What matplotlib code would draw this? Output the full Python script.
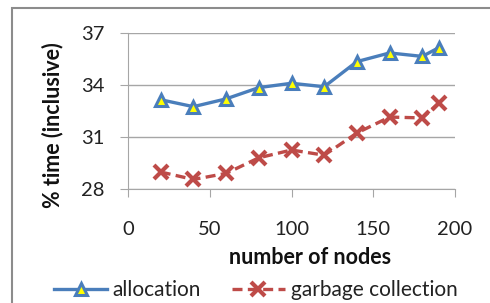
import matplotlib
matplotlib.use("Agg")
import matplotlib.pyplot as plt
from matplotlib.patches import Rectangle

plt.rcParams['font.family'] = ['Lato', 'DejaVu Sans']

nodes = [20, 40, 60, 80, 100, 120, 140, 160, 180, 190]
allocation = [33.15, 32.75, 33.2, 33.85, 34.1, 33.9, 35.35, 35.85, 35.65, 36.15]
garbage = [28.98, 28.55, 28.9, 29.8, 30.25, 29.95, 31.23, 32.15, 32.1, 32.95]

yticks = [28, 31, 34, 37]
xticks = [0, 50, 100, 150, 200]

blue = "#4a7ebb"
red = "#be4b48"
gray = "#a6a6a6"

fig = plt.figure(figsize=(4.9, 3.03), dpi=100)
ax = fig.add_axes([128/490, 1-189/303, (455-128)/490, (189-33)/303])

# outer chart border (only top/left visible in crop)
fig.patches.append(Rectangle((12/490, -0.1), 1.2, 1-8/303+0.1, transform=fig.transFigure,
                             fill=False, edgecolor="#8c8c8c", lw=1.5))

ax.plot(nodes, allocation, color=blue, lw=2.4, marker="^", ms=9,
        mfc="#ffff00", mec=blue, mew=2.2, label="allocation")
ax.plot(nodes, garbage, color=red, lw=2.4, ls=(0, (3, 1.6)), marker="x", ms=10,
        mec=red, mew=3, label="garbage collection")

ax.set_xlim(0, 200)
ax.set_ylim(28, 37)
ax.set_xticks(xticks)
ax.set_yticks(yticks)
ax.yaxis.grid(True, color=gray, lw=1)
ax.set_axisbelow(True)
for s in ["top", "right"]:
    ax.spines[s].set_visible(False)
for s in ["left", "bottom"]:
    ax.spines[s].set_color(gray)
ax.tick_params(axis="both", colors=gray, labelcolor="#222222", labelsize=14.5, length=6)
ax.tick_params(axis="y", pad=11)
ax.tick_params(axis="x", pad=17)

ax.set_ylabel("% time (inclusive)", fontsize=15.5, fontweight="bold", color="#111111")
ax.yaxis.set_label_coords(-0.199, 0.41)
fig.text(310/490, 1-258/303, "number of nodes", fontsize=15.5, fontweight="bold",
         ha="center", va="center", color="#111111")

ax.legend(loc="center", bbox_to_anchor=(256/490, 1-290/303), bbox_transform=fig.transFigure,
          ncol=2, frameon=False, fontsize=15, handlelength=2.5, columnspacing=1.5,
          handletextpad=0.3, borderaxespad=0, borderpad=0, labelcolor="#222222")

fig.savefig("out.png", dpi=100)
